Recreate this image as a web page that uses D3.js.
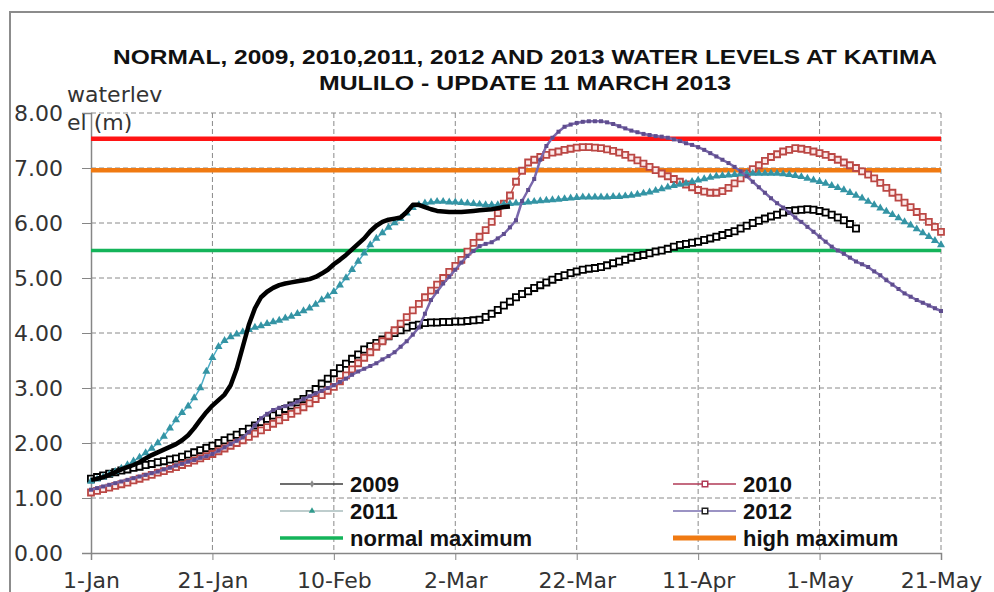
<!DOCTYPE html>
<html>
<head>
<meta charset="utf-8">
<script src="https://cdn.jsdelivr.net/npm/d3@7"></script>
<style>
body { margin: 0; background: #fff; }
</style>
</head>
<body>
<svg id="chart" width="994" height="592"></svg>
<script>
// x is the day counted from 1 January, y the water level in metres
const xTickDays = [0, 20, 40, 60, 80, 100, 120, 140];
const xTickLabels = ["1-Jan", "21-Jan", "10-Feb", "2-Mar", "22-Mar", "11-Apr", "1-May", "21-May"];
const yTicks = [0, 1, 2, 3, 4, 5, 6, 7, 8];
const titleLines = ["NORMAL, 2009, 2010,2011, 2012 AND 2013 WATER LEVELS AT KATIMA", "MULILO - UPDATE 11 MARCH 2013"];
const yLabelLines = ["waterlev", "el (m)"];

const levels2009 = [1.35,1.38,1.41,1.44,1.47,1.50,1.52,1.55,1.57,1.60,1.62,1.65,1.67,1.70,1.72,1.75,1.79,1.83,1.87,1.91,
  1.95,2.00,2.05,2.10,2.15,2.20,2.26,2.32,2.38,2.44,2.50,2.56,2.62,2.68,2.74,2.80,2.89,2.98,3.08,3.17,
  3.27,3.36,3.44,3.53,3.61,3.70,3.76,3.82,3.88,3.94,4.00,4.05,4.10,4.13,4.15,4.18,4.19,4.19,4.20,4.20,
  4.21,4.21,4.22,4.23,4.24,4.29,4.35,4.42,4.50,4.57,4.65,4.71,4.76,4.82,4.87,4.92,4.97,5.02,5.05,5.09,
  5.12,5.15,5.17,5.18,5.20,5.23,5.27,5.30,5.33,5.37,5.40,5.42,5.45,5.48,5.50,5.53,5.57,5.60,5.62,5.64,
  5.66,5.69,5.72,5.75,5.78,5.82,5.85,5.90,5.95,6.00,6.04,6.08,6.12,6.15,6.19,6.22,6.23,6.24,6.25,6.24,
  6.22,6.19,6.15,6.10,6.05,5.98,5.90];
const levels2010 = [1.10,1.13,1.16,1.19,1.22,1.25,1.28,1.32,1.35,1.39,1.42,1.46,1.49,1.53,1.56,1.60,1.64,1.68,1.72,1.76,
  1.80,1.85,1.90,1.95,2.00,2.05,2.11,2.17,2.23,2.29,2.35,2.41,2.47,2.53,2.59,2.65,2.72,2.80,2.87,2.95,
  3.02,3.12,3.23,3.34,3.45,3.55,3.65,3.75,3.85,3.95,4.05,4.17,4.29,4.41,4.53,4.65,4.77,4.88,5.00,5.11,
  5.22,5.33,5.48,5.64,5.75,5.87,6.02,6.18,6.35,6.50,6.75,6.95,7.10,7.15,7.20,7.24,7.28,7.30,7.33,7.35,
  7.37,7.38,7.38,7.37,7.36,7.34,7.31,7.28,7.24,7.19,7.14,7.08,7.02,6.96,6.90,6.85,6.80,6.75,6.70,6.65,
  6.60,6.57,6.55,6.55,6.58,6.64,6.72,6.81,6.90,6.98,7.05,7.13,7.20,7.25,7.30,7.33,7.36,7.35,7.33,7.30,
  7.27,7.24,7.20,7.15,7.10,7.05,7.00,6.94,6.88,6.81,6.73,6.64,6.55,6.46,6.37,6.29,6.20,6.11,6.02,5.93,
  5.84];
const levels2011 = [1.30,1.34,1.38,1.43,1.48,1.54,1.60,1.67,1.74,1.82,1.90,2.00,2.12,2.27,2.42,2.55,2.67,2.82,3.00,3.30,
  3.55,3.75,3.86,3.93,3.98,4.02,4.06,4.10,4.13,4.17,4.20,4.23,4.27,4.30,4.35,4.40,4.45,4.52,4.60,4.67,
  4.75,4.87,5.00,5.15,5.30,5.45,5.60,5.72,5.82,5.92,6.00,6.08,6.18,6.28,6.33,6.36,6.38,6.39,6.39,6.38,
  6.38,6.37,6.36,6.35,6.34,6.33,6.33,6.33,6.34,6.35,6.36,6.37,6.38,6.39,6.40,6.41,6.42,6.43,6.44,6.45,
  6.46,6.47,6.47,6.47,6.47,6.47,6.48,6.48,6.49,6.50,6.52,6.54,6.56,6.59,6.62,6.65,6.68,6.70,6.72,6.75,
  6.78,6.80,6.83,6.85,6.86,6.87,6.88,6.89,6.90,6.90,6.90,6.90,6.90,6.90,6.89,6.88,6.86,6.84,6.81,6.78,
  6.75,6.72,6.68,6.64,6.60,6.55,6.50,6.45,6.39,6.33,6.27,6.21,6.15,6.09,6.02,5.96,5.89,5.82,5.75,5.68,
  5.60];
const levels2012 = [1.15,1.18,1.21,1.24,1.27,1.30,1.33,1.36,1.39,1.42,1.45,1.48,1.52,1.55,1.59,1.62,1.66,1.69,1.73,1.76,
  1.80,1.86,1.92,1.98,2.04,2.10,2.20,2.32,2.45,2.53,2.60,2.64,2.67,2.70,2.75,2.80,2.85,2.90,2.95,3.00,
  3.05,3.11,3.17,3.24,3.30,3.35,3.40,3.45,3.52,3.58,3.65,3.75,3.85,3.97,4.10,4.35,4.60,4.75,4.90,5.02,
  5.15,5.28,5.40,5.49,5.58,5.62,5.65,5.72,5.80,5.92,6.05,6.40,6.60,6.80,7.15,7.40,7.55,7.66,7.75,7.79,
  7.82,7.84,7.85,7.85,7.85,7.83,7.80,7.76,7.72,7.68,7.65,7.62,7.60,7.58,7.57,7.55,7.52,7.49,7.45,7.42,
  7.38,7.33,7.27,7.21,7.15,7.09,7.02,6.94,6.85,6.75,6.65,6.55,6.45,6.36,6.28,6.19,6.10,6.02,5.93,5.84,
  5.75,5.66,5.57,5.50,5.44,5.37,5.30,5.25,5.20,5.12,5.05,4.96,4.88,4.80,4.72,4.66,4.60,4.55,4.50,4.45,
  4.40];
const levels2013 = [1.33,1.35,1.38,1.42,1.47,1.52,1.56,1.60,1.65,1.72,1.78,1.83,1.88,1.93,1.98,2.05,2.14,2.27,2.42,2.56,
  2.68,2.78,2.88,3.05,3.35,3.75,4.15,4.45,4.65,4.75,4.82,4.87,4.90,4.92,4.94,4.96,4.98,5.02,5.08,5.15,
  5.25,5.33,5.42,5.52,5.62,5.72,5.85,5.95,6.02,6.06,6.08,6.10,6.20,6.33,6.33,6.29,6.25,6.22,6.21,6.20,
  6.20,6.20,6.21,6.22,6.23,6.24,6.25,6.27,6.29,6.30];

const normalMaximum = 5.5;
const highMaximum = 6.96;
const topLevel = 7.53;
const legendLabels = ["2009", "2010", "2011", "2012", "normal maximum", "high maximum"];

const width = 994, height = 592;
const plotLeft = 91, plotRight = 941, plotTop = 113, plotBottom = 553;
const axisFont = '"DejaVu Sans", sans-serif';
const boldFont = '"Liberation Sans", Arial, sans-serif';

const svg = d3.select('#chart');

const x = d3.scaleLinear().domain([0, 140]).range([plotLeft, plotRight]);
const y = d3.scaleLinear().domain([0, 8]).range([plotBottom, plotTop]);

// chart area frame (only left and top edges are in view)
svg.append('path')
    .attr('d', `M10,${height}V12H${width}`)
    .attr('fill', 'none')
    .attr('stroke', '#8c8c8c')
    .attr('stroke-width', 2);

// title
svg.append('g').selectAll('text')
    .data(titleLines)
    .join('text')
    .attr('x', 525)
    .attr('y', (d, i) => 64 + i * 26)
    .attr('text-anchor', 'middle')
    .attr('font-family', boldFont)
    .attr('font-weight', 'bold')
    .attr('font-size', 19.5)
    .attr('fill', '#111')
    .attr('textLength', (d, i) => i === 0 ? 824 : 412)
    .attr('lengthAdjust', 'spacingAndGlyphs')
    .text(d => d);

// dashed grid
const grid = svg.append('g')
    .attr('stroke', '#8a8a8a')
    .attr('stroke-width', 1)
    .attr('stroke-dasharray', '5,3');
grid.selectAll('.hgrid')
    .data(yTicks.filter(d => d > 0))
    .join('line')
    .attr('x1', plotLeft).attr('x2', plotRight)
    .attr('y1', d => y(d)).attr('y2', d => y(d));
grid.selectAll('.vgrid')
    .data(xTickDays.filter(d => d > 0))
    .join('line')
    .attr('x1', d => x(d)).attr('x2', d => x(d))
    .attr('y1', plotTop).attr('y2', plotBottom);

// axes
const yAxis = svg.append('g')
    .attr('transform', `translate(${plotLeft},0)`)
    .call(d3.axisLeft(y).tickValues(yTicks).tickFormat(d3.format('.2f')).tickSize(9).tickPadding(19));
const xAxis = svg.append('g')
    .attr('transform', `translate(0,${plotBottom})`)
    .call(d3.axisBottom(x).tickValues(xTickDays).tickFormat((d, i) => xTickLabels[i]).tickSize(7).tickPadding(12));
[yAxis, xAxis].forEach(a => {
    a.selectAll('.domain').attr('stroke', '#868686').attr('stroke-width', 1.5);
    a.selectAll('.tick line').attr('stroke', '#868686');
    a.selectAll('text')
        .attr('font-family', axisFont)
        .attr('font-size', 22)
        .attr('fill', '#333');
});

svg.append('g').selectAll('text')
    .data(yLabelLines)
    .join('text')
    .attr('x', 67)
    .attr('y', (d, i) => 102 + i * 28)
    .attr('font-family', axisFont)
    .attr('font-size', 22)
    .attr('fill', '#333')
    .text(d => d);

// reference levels
const refs = [
    {v: topLevel, color: '#ff1414', w: 4.5},
    {v: highMaximum, color: '#f07a12', w: 4.5},
    {v: normalMaximum, color: '#14b45a', w: 3.5}
];
svg.append('g').selectAll('line')
    .data(refs)
    .join('line')
    .attr('x1', plotLeft).attr('x2', plotRight)
    .attr('y1', d => y(d.v)).attr('y2', d => y(d.v))
    .attr('stroke', d => d.color)
    .attr('stroke-width', d => d.w);

// series
const line = d3.line().x((d, i) => x(i)).y(d => y(d));
function drawSeries(values, st) {
    const g = svg.append('g');
    g.append('path')
        .datum(values)
        .attr('d', line)
        .attr('fill', 'none')
        .attr('stroke', st.color)
        .attr('stroke-width', st.width)
        .attr('stroke-linejoin', 'round');
    if (!st.symbol) return;
    g.selectAll('path.m')
        .data(values)
        .join('path')
        .attr('class', 'm')
        .attr('transform', (d, i) => `translate(${x(i)},${y(d)})`)
        .attr('d', d3.symbol(st.symbol, st.size)())
        .attr('fill', st.fill)
        .attr('stroke', st.stroke || 'none')
        .attr('stroke-width', st.sw || 0);
}

drawSeries(levels2009, {color: '#000', width: 1.2, symbol: d3.symbolSquare, size: 38, fill: '#fff', stroke: '#000', sw: 1.8});
drawSeries(levels2010, {color: '#c0504d', width: 1.5, symbol: d3.symbolSquare, size: 36, fill: '#fbeaea', stroke: '#bb4744', sw: 1.8});
drawSeries(levels2011, {color: '#4bacc6', width: 1.5, symbol: d3.symbolTriangle, size: 28, fill: '#3494a4'});
drawSeries(levels2012, {color: '#7a68ac', width: 2.5, symbol: d3.symbolSquare, size: 16, fill: '#5f4d8e'});
drawSeries(levels2013, {color: '#000', width: 4.5});

// legend
const legendStyles = [
    {color: '#3c3c3c', w: 1.5, symbol: d3.symbolDiamond, size: 16, fill: '#8a8a8a'},
    {color: '#b03a56', w: 1.5, symbol: d3.symbolSquare, size: 30, fill: '#fff', stroke: '#b03a56'},
    {color: '#a9bcbc', w: 1.5, symbol: d3.symbolTriangle, size: 18, fill: '#2f9a8c'},
    {color: '#7a6fb0', w: 1.5, symbol: d3.symbolSquare, size: 30, fill: '#fff', stroke: '#222'},
    {color: '#14b45a', w: 3.5},
    {color: '#f07a12', w: 5}
];
const legend = svg.append('g');
legendLabels.forEach((label, i) => {
    const col = i % 2, row = Math.floor(i / 2);
    const lx = col === 0 ? 280 : 673;
    const ly = 484 + row * 27;
    const st = legendStyles[i];
    const item = legend.append('g').attr('transform', `translate(${lx},${ly})`);
    item.append('line')
        .attr('x1', 0).attr('x2', 63)
        .attr('stroke', st.color)
        .attr('stroke-width', st.w);
    if (st.symbol) {
        item.append('path')
            .attr('transform', 'translate(32,0)')
            .attr('d', d3.symbol(st.symbol, st.size)())
            .attr('fill', st.fill)
            .attr('stroke', st.stroke || 'none')
            .attr('stroke-width', 1.5);
    }
    item.append('text')
        .attr('x', 70)
        .attr('y', 7.5)
        .attr('font-family', boldFont)
        .attr('font-weight', 'bold')
        .attr('font-size', 22)
        .attr('fill', '#111')
        .text(label);
});
</script>
</body>
</html>
